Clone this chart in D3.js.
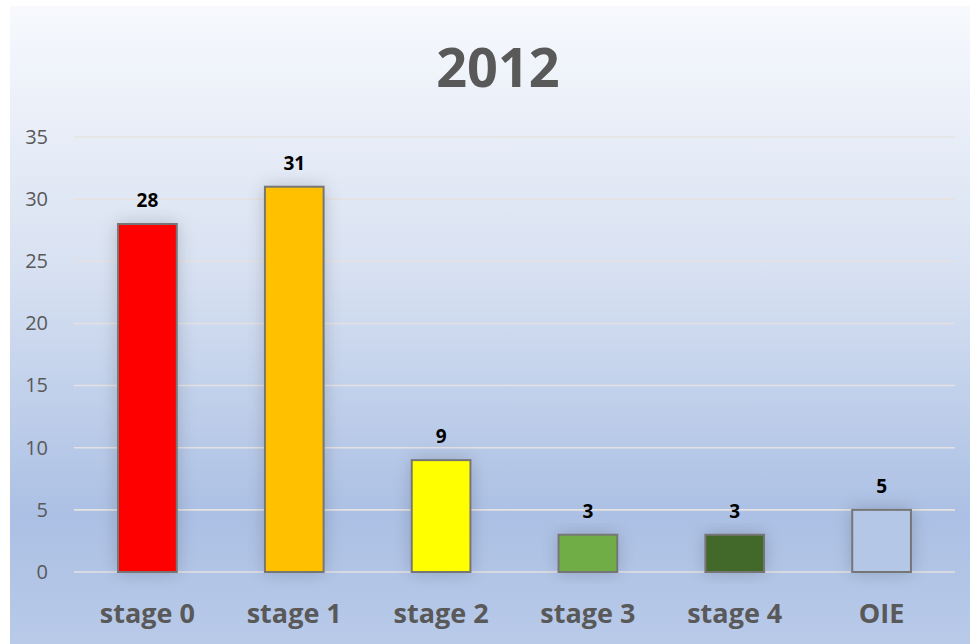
<!DOCTYPE html>
<html>
<head>
<meta charset="utf-8">
<script src="https://cdn.jsdelivr.net/npm/d3@7"></script>
<style>
  body { margin: 0; background: #ffffff; }
  text { font-family: "Open Sans", "Noto Sans", sans-serif; }
</style>
</head>
<body>
<svg id="chart" width="970" height="644"></svg>
<script>
// chart data
const categories = ["stage 0", "stage 1", "stage 2", "stage 3", "stage 4", "OIE"];
const values = [28, 31, 9, 3, 3, 5];
const barColors = ["#ff0000", "#ffc000", "#ffff00", "#70ad47", "#43682b", "#b4c7e7"];
const yTicks = [0, 5, 10, 15, 20, 25, 30, 35];
const title = "2012";

const svg = d3.select("#chart");

// background panel with gradient
let defs = svg.append("defs");
let grad = defs.append("linearGradient")
  .attr("id", "bg")
  .attr("x1", 0).attr("y1", 0)
  .attr("x2", 0).attr("y2", 1);
grad.append("stop").attr("offset", "0%").attr("stop-color", "#f7f9fd");
grad.append("stop").attr("offset", "40%").attr("stop-color", "#d9e2f2");
grad.append("stop").attr("offset", "80%").attr("stop-color", "#abc0e4");
grad.append("stop").attr("offset", "100%").attr("stop-color", "#b9cae9");

let shadow = defs.append("filter")
  .attr("id", "shadow")
  .attr("x", "-60%").attr("y", "-30%")
  .attr("width", "220%").attr("height", "160%");
shadow.append("feGaussianBlur").attr("in", "SourceAlpha").attr("stdDeviation", 9);
shadow.append("feComponentTransfer")
  .append("feFuncA").attr("type", "linear").attr("slope", 0.18);
let merge = shadow.append("feMerge");
merge.append("feMergeNode");
merge.append("feMergeNode").attr("in", "SourceGraphic");

svg.append("rect")
  .attr("x", 10).attr("y", 6)
  .attr("width", 960).attr("height", 638)
  .attr("fill", "url(#bg)");

// scales
let x = d3.scaleBand()
  .domain(categories)
  .range([74, 955])
  .paddingInner(0.6)
  .paddingOuter(0.3);

let y = d3.scaleLinear()
  .domain([0, 35])
  .range([572, 137]);

// gridlines
svg.append("g")
  .selectAll("line")
  .data(yTicks)
  .join("line")
  .attr("x1", 74).attr("x2", 955)
  .attr("y1", d => y(d)).attr("y2", d => y(d))
  .attr("stroke", "#e6e2e2")
  .attr("stroke-width", 1.6);

// y axis
let yAxis = svg.append("g")
  .attr("transform", "translate(58,0)")
  .call(d3.axisLeft(y).tickValues(yTicks).tickSize(0).tickPadding(10));
yAxis.select(".domain").remove();
yAxis.selectAll("text")
  .attr("font-size", 20)
  .attr("fill", "#595959")
  .attr("font-family", "Open Sans, sans-serif");

// x axis
let xAxis = svg.append("g")
  .attr("transform", "translate(0,572)")
  .call(d3.axisBottom(x).tickSize(0).tickPadding(32));
xAxis.select(".domain").remove();
xAxis.selectAll("text")
  .attr("font-size", 27)
  .attr("font-weight", "bold")
  .attr("fill", "#595959")
  .attr("font-family", "Open Sans, sans-serif");

// bars
svg.append("g")
  .selectAll("rect")
  .data(values)
  .join("rect")
  .attr("x", (d, i) => x(categories[i]))
  .attr("y", d => y(d))
  .attr("width", x.bandwidth())
  .attr("height", d => y(0) - y(d))
  .attr("fill", (d, i) => barColors[i])
  .attr("stroke", "#767676")
  .attr("stroke-width", 2)
  .attr("filter", "url(#shadow)");

// value labels
svg.append("g")
  .selectAll("text")
  .data(values)
  .join("text")
  .attr("x", (d, i) => x(categories[i]) + x.bandwidth() / 2)
  .attr("y", d => y(d) - 17)
  .attr("text-anchor", "middle")
  .attr("font-size", 19)
  .attr("font-weight", "bold")
  .attr("fill", "#000000")
  .text(d => d);

// title
svg.append("text")
  .attr("x", 498)
  .attr("y", 87)
  .attr("text-anchor", "middle")
  .attr("font-size", 54)
  .attr("font-weight", "bold")
  .attr("fill", "#595959")
  .text(title);
</script>
</body>
</html>
